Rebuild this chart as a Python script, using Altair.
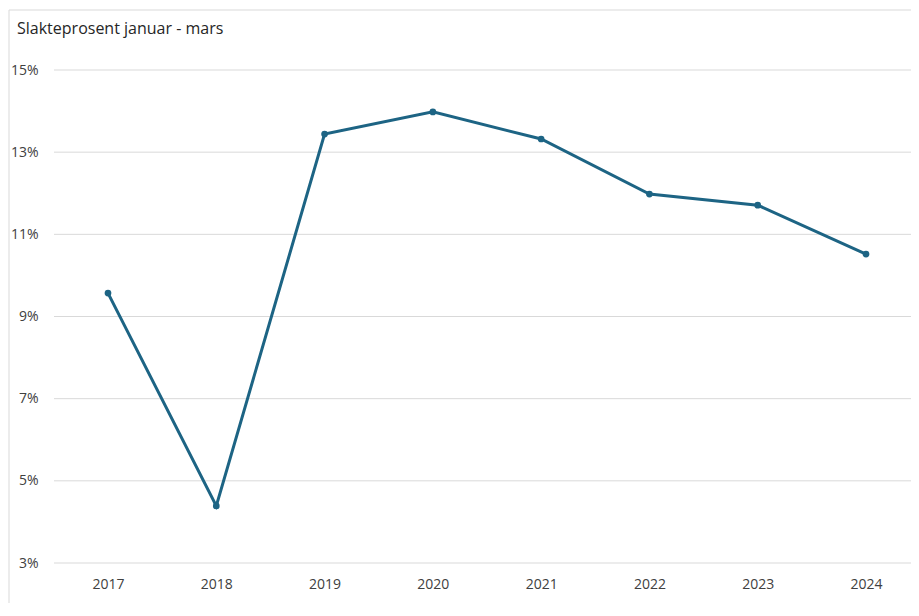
import altair as alt
import pandas as pd

years = ["2017", "2018", "2019", "2020", "2021", "2022", "2023", "2024"]
slakteprosent = [9.57, 4.39, 13.44, 13.98, 13.32, 11.98, 11.71, 10.52]
y_ticks = [3, 5, 7, 9, 11, 13, 15]
title_text = "Slakteprosent januar - mars"

df = pd.DataFrame({"year": years, "value": slakteprosent})
grid_df = pd.DataFrame({"value": y_ticks})

LINE = "#1d6484"
FONT = "Open Sans"

x = alt.X("year:N", sort=years, title=None,
          scale=alt.Scale(type="point", padding=0, range=[54, 812]),
          axis=alt.Axis(labelAngle=0, labelFontSize=14, labelColor="#404040",
                        labelFont=FONT, ticks=False, domain=False, grid=False,
                        labelPadding=14))
yscale = alt.Scale(domain=[3, 15], nice=False, zero=False)
yaxis = alt.Axis(values=y_ticks, labelExpr="datum.value + '%'",
                 labelFontSize=14, labelColor="#404040", labelFont=FONT,
                 ticks=False, domain=False, grid=False, labelPadding=16)
y = alt.Y("value:Q", title=None, scale=yscale, axis=yaxis)

frame = alt.Chart(alt.Data(values=[{}])).mark_rect(
    fill=None, stroke="#d9d9d9", strokeWidth=1
).encode(x=alt.value(-45), x2=alt.value(1000), y=alt.value(-60), y2=alt.value(700))

grid = alt.Chart(grid_df).mark_rule(color="#d9d9d9", strokeWidth=1).encode(
    y=y, x=alt.value(0), x2=alt.value(870))

title = alt.Chart(alt.Data(values=[{"t": title_text}])).mark_text(
    align="left", baseline="middle", fontSize=16, font=FONT, color="#262626"
).encode(x=alt.value(-37), y=alt.value(-41), text="t:N")

line = alt.Chart(df).mark_line(color=LINE, strokeWidth=3).encode(x=x, y=y)
pts = alt.Chart(df).mark_circle(color=LINE, size=45, opacity=1).encode(x=x, y=y)

chart = alt.layer(frame, grid, title, line, pts).properties(
    width=857, height=493,
    padding={"left": 46, "top": 62, "right": 0, "bottom": 40},
    autosize=alt.AutoSizeParams(type="none"),
).configure_view(stroke=None)

chart.save("out.html", embed_options={"renderer": "svg", "actions": False})
